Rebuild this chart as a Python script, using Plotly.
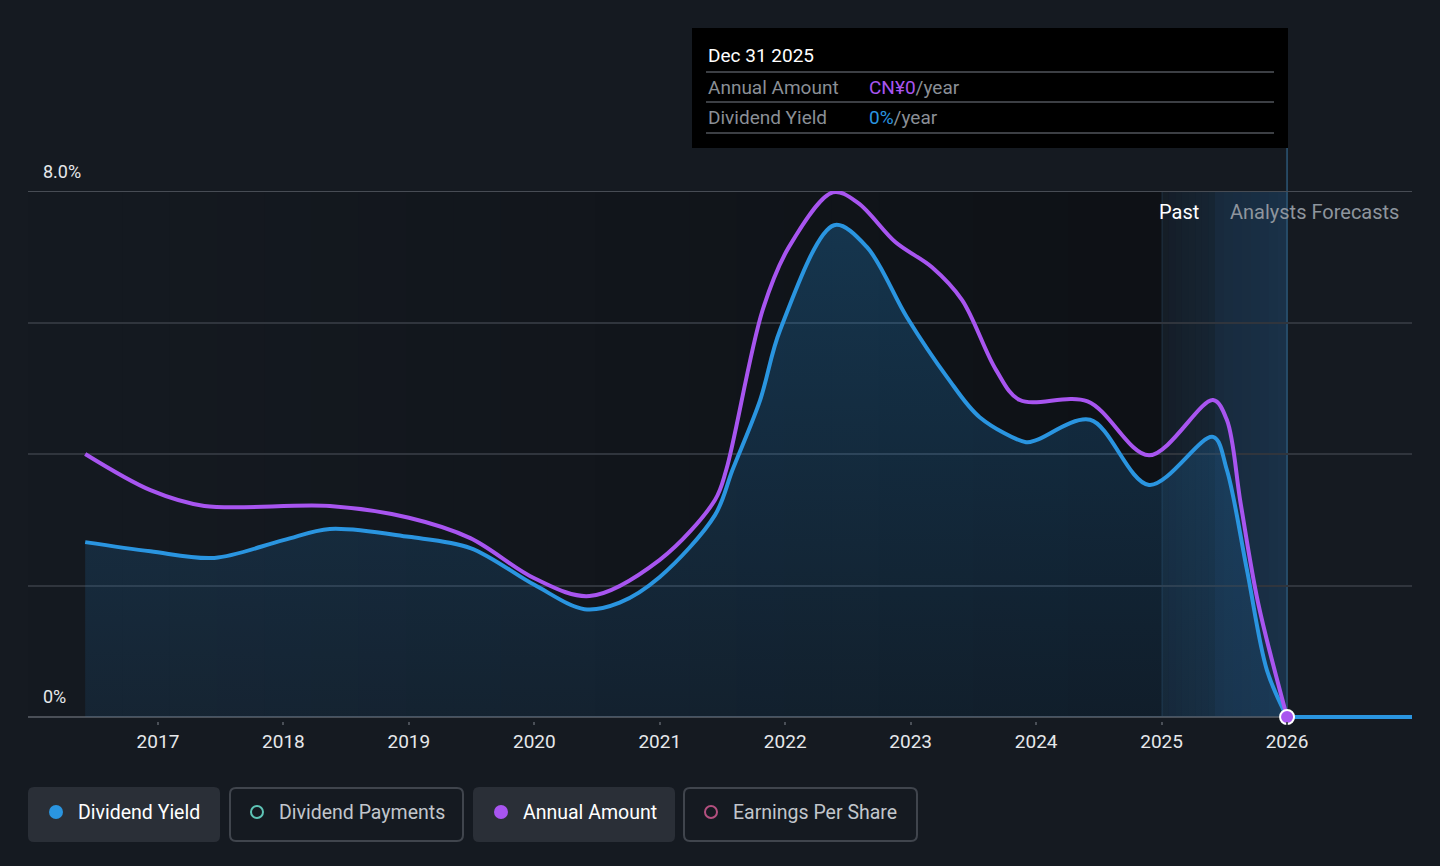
import plotly.graph_objects as go

# ---------------- data ----------------
yield_years = [2016.42, 2016.94, 2017.45, 2018.0, 2018.37, 2019.0, 2019.49, 2020.0, 2020.40, 2020.68,
               2021.0, 2021.44, 2021.58, 2021.80, 2021.96, 2022.39, 2022.65, 2022.97, 2023.29, 2023.55,
               2023.92, 2024.0, 2024.43, 2024.90, 2025.41, 2025.52, 2025.68, 2025.84, 2026.0]
yield_vals = [2.66, 2.52, 2.42, 2.69, 2.86, 2.74, 2.57, 2.01, 1.64, 1.74,
              2.13, 3.07, 3.76, 4.82, 5.89, 7.48, 7.15, 6.08, 5.17, 4.56,
              4.18, 4.21, 4.52, 3.53, 4.26, 3.76, 2.24, 0.71, 0.0]

forecast_years = [2026.0, 2027.0]
forecast_yield = [0.0, 0.0]

amount_years = [2016.42, 2016.94, 2017.37, 2018.37, 2019.0, 2019.49, 2020.0, 2020.44, 2021.0, 2021.44,
                2021.53, 2021.82, 2022.03, 2022.38, 2022.58, 2022.88, 2023.17, 2023.41, 2023.68, 2023.87,
                2024.41, 2024.90, 2025.41, 2025.52, 2025.63, 2025.77, 2026.0]
amount_vals = [4.0, 3.45, 3.21, 3.21, 3.03, 2.72, 2.11, 1.84, 2.39, 3.30,
               3.76, 6.19, 7.15, 7.98, 7.82, 7.22, 6.84, 6.34, 5.28, 4.82,
               4.80, 3.98, 4.82, 4.52, 3.25, 1.73, 0.0]

tick_years = [2017, 2018, 2019, 2020, 2021, 2022, 2023, 2024, 2025, 2026]
tick_labels = [str(y) for y in tick_years]
grid_vals = [2, 4, 6]

BG = "#151a21"
BLUE = "#2a95e0"
PURPLE = "#a855f0"
FONT = "Roboto"

W, H = 1440, 866
L, R, T, B = 28, 28, 191, 145
PW, PH = W - L - R, H - T - B
Y_MIN = -8.0 * 4 / (717 - 191)   # small space below zero so the flat line at 0 is not cut

def px(X):
    return (X - L) / PW

def py(Y):
    return (H - B - Y) / PH

fig = go.Figure()

fig.add_trace(go.Scatter(
    x=yield_years, y=yield_vals, mode="lines",
    line=dict(color=BLUE, width=4, shape="spline", smoothing=0.95),
    fill="tozeroy",
    fillgradient=dict(type="vertical",
                      colorscale=[[0, "rgba(33,120,190,0.12)"], [1, "rgba(33,130,200,0.30)"]]),
    hoverinfo="skip", showlegend=False,
))
fig.add_trace(go.Scatter(
    x=forecast_years, y=forecast_yield, mode="lines",
    line=dict(color=BLUE, width=4),
    hoverinfo="skip", showlegend=False,
))
fig.add_trace(go.Scatter(
    x=amount_years, y=amount_vals, mode="lines",
    line=dict(color=PURPLE, width=4, shape="spline", smoothing=0.95),
    hoverinfo="skip", showlegend=False,
))
fig.add_trace(go.Scatter(
    x=[amount_years[-1]], y=[amount_vals[-1]], mode="markers",
    marker=dict(color=PURPLE, size=14, line=dict(color="white", width=2)),
    hoverinfo="skip", showlegend=False, cliponaxis=False,
))

shapes = []
# darkening gradient over the past region
n = 24
x0p, x1p = 28, 1162
for i in range(n):
    a = x0p + (x1p - x0p) * i / n
    b = x0p + (x1p - x0p) * (i + 1) / n
    op = 0.34 * ((i + 0.5) / n) ** 1.2
    shapes.append(dict(type="rect", xref="paper", yref="paper", x0=px(a), x1=px(b), y0=py(717), y1=1,
                       fillcolor=f"rgba(0,0,0,{op:.3f})", line=dict(width=0), layer="below"))
# past band (2025 -> 2025.42)
m = 8
for i in range(m):
    a = 1162 + (1215 - 1162) * i / m
    b = 1162 + (1215 - 1162) * (i + 1) / m
    op = 0.06 + 0.12 * (i + 0.5) / m
    shapes.append(dict(type="rect", xref="paper", yref="paper", x0=px(a), x1=px(b), y0=py(717), y1=1,
                       fillcolor=f"rgba(30,90,140,{op:.3f})", line=dict(width=0), layer="below"))
for i in range(m):
    a = 1215 + (1287 - 1215) * i / m
    b = 1215 + (1287 - 1215) * (i + 1) / m
    op = 0.24 + 0.10 * (i + 0.5) / m
    shapes.append(dict(type="rect", xref="paper", yref="paper", x0=px(a), x1=px(b), y0=py(717), y1=1,
                       fillcolor=f"rgba(35,95,150,{op:.3f})", line=dict(width=0), layer="below"))
shapes.append(dict(type="line", xref="paper", yref="paper", x0=px(1162), x1=px(1162), y0=py(717), y1=1,
                   line=dict(color="rgba(60,110,150,0.30)", width=1), layer="below"))

# hover line
shapes.append(dict(type="line", xref="x", yref="paper", x0=2026, x1=2026, y0=py(717), y1=py(148),
                   line=dict(color="#2c5778", width=1.5), layer="below"))

# tooltip box
shapes.append(dict(type="rect", xref="paper", yref="paper", x0=px(692), x1=px(1288), y0=py(148), y1=py(28),
                   fillcolor="#000000", line=dict(width=0)))
for yy in [72, 102, 133]:
    shapes.append(dict(type="line", xref="paper", yref="paper", x0=px(706), x1=px(1274), y0=py(yy), y1=py(yy),
                       line=dict(color="#3c3f44", width=2)))

# top gridline and axis line
shapes.append(dict(type="line", xref="paper", yref="y", x0=0, x1=1, y0=8, y1=8,
                   line=dict(color="#474c54", width=2), layer="below"))
shapes.append(dict(type="line", xref="paper", yref="y", x0=0, x1=1, y0=0, y1=0,
                   line=dict(color="#4a4f57", width=2), layer="below"))

# legend boxes
def rrect(X0, Y0, X1, Y1, r=6):
    rx = r / PW
    ry = r / PH
    a, b, c, d = px(X0), px(X1), py(Y1), py(Y0)  # c bottom, d top
    return (f"M {a+rx},{d} L {b-rx},{d} Q {b},{d} {b},{d-ry} L {b},{c+ry} Q {b},{c} {b-rx},{c} "
            f"L {a+rx},{c} Q {a},{c} {a},{c+ry} L {a},{d-ry} Q {a},{d} {a+rx},{d} Z")

legend_items = [
    (28, 220, "Dividend Yield", BLUE, True, "#ffffff"),
    (229, 464, "Dividend Payments", "#5ec4b6", False, "#c2c6cc"),
    (473, 675, "Annual Amount", PURPLE, True, "#ffffff"),
    (683, 918, "Earnings Per Share", "#b3507f", False, "#c2c6cc"),
]
annotations = []
for (X0, X1, label, col, active, tcol) in legend_items:
    if active:
        shapes.append(dict(type="path", xref="paper", yref="paper", path=rrect(X0, 787, X1, 842),
                           fillcolor="#2a2f37", line=dict(width=0)))
    else:
        shapes.append(dict(type="path", xref="paper", yref="paper", path=rrect(X0 + 1, 788, X1 - 1, 841),
                           fillcolor=BG, line=dict(color="#40454d", width=2)))
    cx = X0 + 28
    r = 7 if active else 6
    shapes.append(dict(type="circle", xref="paper", yref="paper",
                       x0=px(cx - r), x1=px(cx + r), y0=py(812 + r), y1=py(812 - r),
                       fillcolor=col if active else "rgba(0,0,0,0)",
                       line=dict(color=col, width=0 if active else 2)))
    annotations.append(dict(xref="paper", yref="paper", x=px(cx + 20), y=py(812), text=label,
                            showarrow=False, xanchor="left", yanchor="middle",
                            font=dict(family=FONT, size=19.5, color=tcol)))

# y labels
annotations.append(dict(xref="paper", yref="paper", x=px(41), y=py(171), text="8.0%", showarrow=False,
                        xanchor="left", yanchor="middle", font=dict(family=FONT, size=18, color="#e6e8eb")))
annotations.append(dict(xref="paper", yref="paper", x=px(41), y=py(696), text="0%", showarrow=False,
                        xanchor="left", yanchor="middle", font=dict(family=FONT, size=18, color="#e6e8eb")))

# past / forecast
annotations.append(dict(xref="paper", yref="paper", x=px(1201), y=py(212), text="Past", showarrow=False,
                        xanchor="right", yanchor="middle", font=dict(family=FONT, size=20, color="#ffffff")))
annotations.append(dict(xref="paper", yref="paper", x=px(1228), y=py(212), text="Analysts Forecasts",
                        showarrow=False, xanchor="left", yanchor="middle",
                        font=dict(family=FONT, size=20, color="#8e959d")))

# tooltip text
annotations.append(dict(xref="paper", yref="paper", x=px(706), y=py(55), text="Dec 31 2025", showarrow=False,
                        xanchor="left", yanchor="middle", font=dict(family=FONT, size=19, color="#ffffff")))
annotations.append(dict(xref="paper", yref="paper", x=px(706), y=py(87), text="Annual Amount", showarrow=False,
                        xanchor="left", yanchor="middle", font=dict(family=FONT, size=19, color="#8a8f96")))
annotations.append(dict(xref="paper", yref="paper", x=px(867), y=py(87),
                        text=f"<span style='color:{PURPLE}'>CN¥0</span>/year", showarrow=False,
                        xanchor="left", yanchor="middle", font=dict(family=FONT, size=19, color="#8a8f96")))
annotations.append(dict(xref="paper", yref="paper", x=px(706), y=py(117), text="Dividend Yield", showarrow=False,
                        xanchor="left", yanchor="middle", font=dict(family=FONT, size=19, color="#8a8f96")))
annotations.append(dict(xref="paper", yref="paper", x=px(867), y=py(117),
                        text=f"<span style='color:{BLUE}'>0%</span>/year", showarrow=False,
                        xanchor="left", yanchor="middle", font=dict(family=FONT, size=19, color="#8a8f96")))

x_left = 2017 - (158 - L) / 125.5
x_right = 2026 + (W - R - 1287) / 125.5

fig.update_layout(
    width=W, height=H,
    margin=dict(l=L, r=R, t=T, b=B),
    paper_bgcolor=BG, plot_bgcolor=BG,
    xaxis=dict(range=[x_left, x_right], tickvals=tick_years, ticktext=tick_labels,
               showgrid=False, zeroline=False, showline=False,
               ticks="outside", ticklen=3, tickcolor="#4a4f57", tickwidth=1.5,
               tickfont=dict(family=FONT, size=19, color="#e6e8eb"), fixedrange=True),
    yaxis=dict(range=[Y_MIN, 8], tickvals=grid_vals, showticklabels=False, showgrid=True,
               gridcolor="#30353d", gridwidth=1.5, zeroline=False, fixedrange=True),
    shapes=shapes,
    annotations=annotations,
    showlegend=False,
    hovermode=False,
)

fig.write_html("out.html", config={"displayModeBar": False},
               post_script="document.body.style.margin='0';document.body.style.background='%s';" % BG)
